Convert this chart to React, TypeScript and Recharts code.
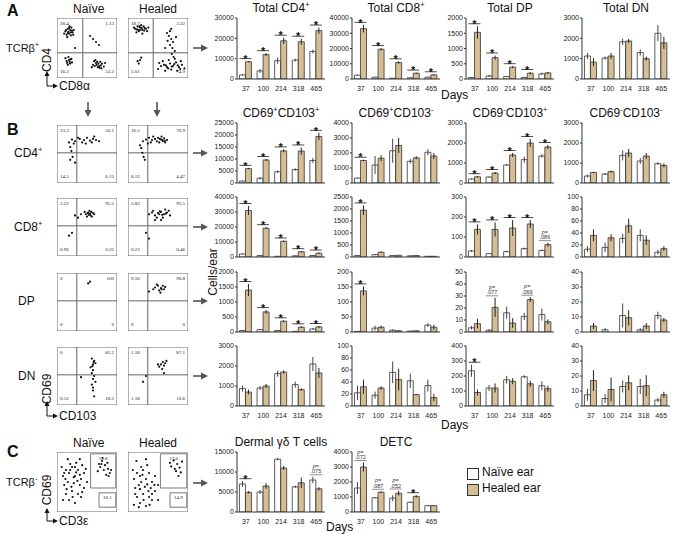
import React from 'react';
import {
  BarChart, Bar, XAxis, YAxis, ErrorBar, ScatterChart, Scatter, ReferenceLine, ReferenceArea,
} from 'recharts';

const FONT = 'Arial, "Liberation Sans", Helvetica, sans-serif';
const TAN = '#d6be94';
const DAYS = ['37', '100', '214', '318', '465'];

// ---------- A: totals ----------
const TOTAL_CD4_NAIVE = [2000, 4000, 9000, 9300, 13500];
const TOTAL_CD4_NAIVE_ERR = [300, 1000, 1500, 700, 1000];
const TOTAL_CD4_HEALED = [8500, 12000, 18800, 18300, 23800];
const TOTAL_CD4_HEALED_ERR = [300, 700, 1500, 1500, 1500];
const TOTAL_CD4_MARKS = ['*', '*', '*', '*', '*'];
const TOTAL_CD4_TICKS = [0, 10000, 20000, 30000];

const TOTAL_CD8_NAIVE = [2500, 1200, 500, 800, 1200];
const TOTAL_CD8_NAIVE_ERR = [400, 200, 100, 200, 300];
const TOTAL_CD8_HEALED = [33000, 19500, 10800, 3800, 2700];
const TOTAL_CD8_HEALED_ERR = [2500, 800, 800, 400, 400];
const TOTAL_CD8_MARKS = ['*', '*', '*', '*', '*'];
const TOTAL_CD8_TICKS = [0, 10000, 20000, 30000, 40000];

const TOTAL_DP_NAIVE = [50, 100, 80, 50, 170];
const TOTAL_DP_NAIVE_ERR = [10, 40, 20, 20, 40];
const TOTAL_DP_HEALED = [1530, 700, 390, 190, 200];
const TOTAL_DP_HEALED_ERR = [200, 70, 30, 40, 30];
const TOTAL_DP_MARKS = ['*', '*', '*', '*', ''];
const TOTAL_DP_TICKS = [0, 500, 1000, 1500, 2000];

const TOTAL_DN_NAIVE = [1130, 1030, 1830, 1300, 2250];
const TOTAL_DN_NAIVE_ERR = [150, 80, 150, 150, 400];
const TOTAL_DN_HEALED = [830, 1130, 1870, 1000, 1780];
const TOTAL_DN_HEALED_ERR = [200, 150, 100, 100, 300];
const TOTAL_DN_MARKS = ['', '', '', '', ''];
const TOTAL_DN_TICKS = [0, 1000, 2000, 3000];

// ---------- B: CD4+ ----------
const CD4_PP_NAIVE = [800, 2000, 4700, 5600, 9400];
const CD4_PP_NAIVE_ERR = [200, 500, 500, 500, 1000];
const CD4_PP_HEALED = [6000, 9600, 13400, 13300, 19400];
const CD4_PP_HEALED_ERR = [300, 400, 600, 1500, 1500];
const CD4_PP_MARKS = ['*', '*', '*', '*', '*'];
const CD4_PP_TICKS = [0, 5000, 10000, 15000, 20000, 25000];

const CD4_PM_NAIVE = [330, 1200, 2150, 1450, 2050];
const CD4_PM_NAIVE_ERR = [30, 600, 800, 150, 200];
const CD4_PM_HEALED = [1500, 1650, 2500, 1680, 1800];
const CD4_PM_HEALED_ERR = [50, 200, 500, 100, 200];
const CD4_PM_MARKS = ['*', '', '', '', ''];
const CD4_PM_TICKS = [0, 1000, 2000, 3000, 4000];

const CD4_MP_NAIVE = [200, 300, 900, 1170, 1350];
const CD4_MP_NAIVE_ERR = [30, 30, 50, 150, 80];
const CD4_MP_HEALED = [310, 500, 1400, 2000, 1800];
const CD4_MP_HEALED_ERR = [30, 50, 100, 200, 100];
const CD4_MP_MARKS = ['*', '*', '*', '*', '*'];
const CD4_MP_TICKS = [0, 1000, 2000, 3000];

const CD4_MM_NAIVE = [350, 450, 1380, 1100, 970];
const CD4_MM_NAIVE_ERR = [70, 50, 250, 150, 70];
const CD4_MM_HEALED = [530, 570, 1500, 1350, 880];
const CD4_MM_HEALED_ERR = [30, 50, 200, 150, 100];
const CD4_MM_MARKS = ['', '', '', '', ''];
const CD4_MM_TICKS = [0, 1000, 2000, 3000];

// ---------- B: CD8+ ----------
const CD8_PP_NAIVE = [2000, 1000, 500, 800, 1000];
const CD8_PP_NAIVE_ERR = [300, 200, 100, 200, 200];
const CD8_PP_HEALED = [31000, 19200, 10500, 3500, 2500];
const CD8_PP_HEALED_ERR = [3000, 700, 500, 400, 500];
const CD8_PP_MARKS = ['*', '*', '*', '*', '*'];
const CD8_PP_TICKS = [0, 10000, 20000, 30000, 40000];

const CD8_PM_NAIVE = [60, 100, 60, 50, 30];
const CD8_PM_NAIVE_ERR = [10, 30, 10, 10, 5];
const CD8_PM_HEALED = [1950, 200, 70, 60, 30];
const CD8_PM_HEALED_ERR = [200, 30, 10, 10, 5];
const CD8_PM_MARKS = ['*', '', '', '', ''];
const CD8_PM_TICKS = [0, 500, 1000, 1500, 2000, 2500];

const CD8_MP_NAIVE = [30, 17, 27, 42, 33];
const CD8_MP_NAIVE_ERR = [5, 2, 4, 5, 4];
const CD8_MP_HEALED = [138, 138, 145, 165, 62];
const CD8_MP_HEALED_ERR = [25, 35, 40, 20, 10];
const CD8_MP_MARKS = ['*', '*', '*', '*', 'p=.086'];
const CD8_MP_TICKS = [0, 100, 200, 300];

const CD8_MM_NAIVE = [13, 16, 31, 36, 8];
const CD8_MM_NAIVE_ERR = [5, 8, 8, 10, 4];
const CD8_MM_HEALED = [36, 32, 52, 28, 14];
const CD8_MM_HEALED_ERR = [10, 6, 12, 8, 4];
const CD8_MM_MARKS = ['', '', '', '', ''];
const CD8_MM_TICKS = [0, 20, 40, 60, 80, 100];

// ---------- B: DP ----------
const DP_PP_NAIVE = [50, 80, 50, 20, 100];
const DP_PP_NAIVE_ERR = [10, 20, 10, 5, 30];
const DP_PP_HEALED = [1400, 670, 360, 160, 170];
const DP_PP_HEALED_ERR = [200, 60, 30, 30, 30];
const DP_PP_MARKS = ['*', '*', '*', '*', '*'];
const DP_PP_TICKS = [0, 500, 1000, 1500, 2000];

const DP_PM_NAIVE = [2, 13, 6, 3, 23];
const DP_PM_NAIVE_ERR = [1, 8, 3, 1, 6];
const DP_PM_HEALED = [137, 16, 4, 4, 16];
const DP_PM_HEALED_ERR = [15, 5, 2, 1, 8];
const DP_PM_MARKS = ['*', '', '', '', ''];
const DP_PM_TICKS = [0, 50, 100, 150, 200];

const DP_MP_NAIVE = [3.5, 1.5, 16, 13, 14.5];
const DP_MP_NAIVE_ERR = [1.5, 1, 5, 3, 5];
const DP_MP_HEALED = [7, 20.5, 7.5, 27, 8.5];
const DP_MP_HEALED_ERR = [4, 8, 4, 2, 2];
const DP_MP_MARKS = ['', 'p=.077', '', 'p=.069', ''];
const DP_MP_TICKS = [0, 10, 20, 30, 40, 50];

const DP_MM_NAIVE = [0, 1.5, 11, 1.5, 11];
const DP_MM_NAIVE_ERR = [0, 1, 8, 1, 2.5];
const DP_MM_HEALED = [4, 0, 9.5, 4, 8];
const DP_MM_HEALED_ERR = [2, 0, 5, 2, 1.5];
const DP_MM_MARKS = ['', '', '', '', ''];
const DP_MM_TICKS = [0, 10, 20, 30, 40];

// ---------- B: DN ----------
const DN_PP_NAIVE = [870, 900, 1620, 1070, 2100];
const DN_PP_NAIVE_ERR = [150, 100, 150, 150, 350];
const DN_PP_HEALED = [700, 1000, 1700, 820, 1650];
const DN_PP_HEALED_ERR = [120, 100, 80, 60, 250];
const DN_PP_MARKS = ['', '', '', '', ''];
const DN_PP_TICKS = [0, 1000, 2000, 3000];

const DN_PM_NAIVE = [22, 18, 56, 42, 34];
const DN_PM_NAIVE_ERR = [12, 6, 18, 12, 10];
const DN_PM_HEALED = [32, 30, 44, 19, 14];
const DN_PM_HEALED_ERR = [12, 3, 18, 1, 6];
const DN_PM_MARKS = ['', '', '', '', ''];
const DN_PM_TICKS = [0, 20, 40, 60, 80, 100];

const DN_MP_NAIVE = [235, 120, 175, 195, 135];
const DN_MP_NAIVE_ERR = [40, 20, 25, 10, 30];
const DN_MP_HEALED = [90, 120, 165, 148, 115];
const DN_MP_HEALED_ERR = [20, 30, 20, 20, 20];
const DN_MP_MARKS = ['*', '', '', '', ''];
const DN_MP_TICKS = [0, 100, 200, 300, 400];

const DN_MM_NAIVE = [7.5, 5, 13, 13, 4];
const DN_MM_NAIVE_ERR = [4, 3, 4, 5, 1.5];
const DN_MM_HEALED = [17, 11, 15.5, 13.5, 7.5];
const DN_MM_HEALED_ERR = [7, 8, 5, 7, 2];
const DN_MM_MARKS = ['', '', '', '', ''];
const DN_MM_TICKS = [0, 10, 20, 30, 40];

// ---------- C ----------
const DERMAL_NAIVE = [7000, 5000, 13200, 6300, 8000];
const DERMAL_NAIVE_ERR = [700, 500, 300, 300, 800];
const DERMAL_HEALED = [4900, 6500, 11000, 7300, 5800];
const DERMAL_HEALED_ERR = [300, 700, 500, 1300, 400];
const DERMAL_MARKS = ['*', '', '', '', 'p=.075'];
const DERMAL_TICKS = [0, 5000, 10000, 15000];

const DETC_NAIVE = [1600, 950, 920, 650, 420];
const DETC_NAIVE_ERR = [400, 50, 200, 50, 20];
const DETC_HEALED = [3000, 1320, 1250, 1040, 420];
const DETC_HEALED_ERR = [300, 60, 150, 80, 20];
const DETC_MARKS = ['p=.072', 'p=.087', 'p=.052', '*', ''];
const DETC_TICKS = [0, 1000, 2000, 3000, 4000];

// ---------- flow cytometry dot plots (x,y on 0..100) ----------
type Pt = [number, number];
const FLOW_A_NAIVE: Pt[] = [
  [14, 78], [18, 82], [22, 80], [26, 76], [20, 74], [16, 72], [24, 84], [28, 80], [19, 77], [23, 71], [12, 74], [27, 72], [21, 86], [17, 68],
  [15, 80], [25, 79], [20, 83], [23, 76], [18, 75],
  [16, 28], [20, 30], [22, 24], [18, 22], [24, 32], [14, 33], [21, 27], [19, 35], [25, 26], [17, 25], [22, 31],
  [60, 22], [65, 25], [70, 20], [75, 24], [68, 18], [62, 28], [72, 27], [78, 19], [66, 22], [58, 18], [74, 16], [80, 25], [64, 30],
  [63, 20], [69, 24], [73, 21], [67, 27], [71, 17],
  [60, 65], [65, 60], [55, 70], [30, 50], [70, 55],
];
const FLOW_A_HEALED: Pt[] = [
  [12, 82], [16, 86], [20, 84], [24, 80], [28, 83], [32, 78], [18, 78], [22, 88], [14, 76], [26, 86], [30, 82], [20, 80], [10, 84], [24, 74], [34, 84],
  [15, 81], [19, 86], [23, 83], [27, 79], [17, 80],
  [65, 75], [70, 78], [68, 70], [72, 65], [75, 60], [70, 55], [74, 50], [78, 45], [66, 62], [80, 68], [72, 82], [62, 50], [73, 40], [76, 35],
  [16, 28], [20, 30], [18, 24], [22, 34],
  [50, 15], [55, 20], [60, 22], [65, 18], [70, 24], [75, 20], [80, 26], [85, 18], [90, 22], [62, 12], [72, 14], [58, 28], [68, 30], [78, 32], [88, 28], [94, 16], [52, 25], [82, 12],
  [63, 21], [67, 16], [73, 19], [77, 23], [83, 21], [87, 15],
];
const FLOW_CD4_NAIVE: Pt[] = [
  [25, 75], [30, 72], [38, 76], [45, 74], [50, 78], [55, 73], [60, 76], [65, 74], [70, 72], [42, 70], [48, 68], [58, 70], [35, 78], [28, 68],
  [22, 62], [24, 55], [26, 45], [22, 40], [30, 35], [20, 70], [62, 80],
];
const FLOW_CD4_HEALED: Pt[] = [
  [30, 75], [35, 78], [40, 74], [45, 76], [50, 78], [55, 75], [60, 77], [65, 74], [38, 70], [48, 72], [58, 72], [42, 80], [52, 70], [62, 70],
  [25, 72], [22, 60], [24, 52], [26, 45], [28, 40], [20, 65], [33, 68], [56, 80], [53, 76], [57, 74], [61, 73],
];
const FLOW_CD8_NAIVE: Pt[] = [
  [48, 72], [52, 75], [56, 70], [60, 74], [54, 78], [58, 68], [50, 68], [62, 72], [46, 76], [55, 73], [30, 70], [40, 72], [35, 66], [20, 35], [25, 40],
  [53, 71], [57, 76], [51, 74],
];
const FLOW_CD8_HEALED: Pt[] = [
  [35, 72], [40, 75], [45, 70], [50, 74], [55, 76], [60, 72], [65, 75], [70, 70], [48, 66], [58, 66], [42, 78], [62, 80], [52, 72], [68, 78], [45, 62], [55, 62], [30, 40], [35, 30],
  [57, 71], [63, 73], [53, 77],
];
const FLOW_DP_NAIVE: Pt[] = [[55, 85], [52, 82]];
const FLOW_DP_HEALED: Pt[] = [
  [45, 75], [50, 78], [55, 74], [60, 72], [52, 70], [48, 80], [58, 78], [62, 76], [42, 72], [54, 66], [35, 68], [56, 72],
];
const FLOW_DN_NAIVE: Pt[] = [
  [58, 80], [62, 76], [60, 70], [56, 65], [64, 72], [60, 60], [58, 55], [62, 50], [60, 45], [64, 40], [58, 35], [60, 25], [62, 15], [60, 30], [40, 48],
  [61, 74], [59, 67],
];
const FLOW_DN_HEALED: Pt[] = [
  [55, 70], [58, 74], [62, 72], [60, 68], [52, 66], [64, 76], [57, 62], [50, 70], [30, 50], [25, 40], [60, 55],
];
const FLOW_C_NAIVE: Pt[] = [
  [10, 60], [15, 70], [20, 65], [25, 75], [30, 60], [35, 70], [40, 55], [45, 65], [12, 45], [18, 50], [28, 48], [38, 45], [22, 80], [32, 82], [42, 78],
  [15, 30], [25, 35], [35, 30], [45, 40], [20, 20], [30, 15], [40, 25], [50, 50], [8, 75], [48, 72], [14, 55], [34, 52], [24, 42], [18, 88], [38, 88],
  [12, 65], [28, 58], [22, 70], [32, 66], [38, 62], [16, 38], [26, 25], [42, 33], [10, 20], [30, 75],
  [70, 80], [75, 85], [80, 78], [85, 72], [78, 70], [72, 75], [88, 65], [82, 62], [90, 70], [76, 90], [68, 68], [84, 82], [74, 80], [86, 60],
];
const FLOW_C_HEALED: Pt[] = [
  [10, 55], [15, 65], [20, 60], [25, 70], [30, 55], [35, 65], [40, 50], [12, 40], [18, 45], [28, 42], [38, 40], [22, 75], [32, 78],
  [15, 25], [25, 30], [35, 25], [45, 35], [20, 15], [30, 10], [40, 20], [50, 45], [8, 70], [45, 60], [10, 12], [50, 20], [14, 85], [30, 88], [22, 50], [34, 35],
  [12, 30], [20, 38], [26, 20], [32, 46], [40, 30], [18, 8], [36, 12], [24, 62], [44, 45],
  [70, 82], [76, 86], [82, 80], [86, 74], [78, 72], [88, 66], [84, 60], [72, 76], [90, 84], [80, 68],
];

// quadrant frequencies: top-left, top-right, bottom-left, bottom-right
const Q_A_NAIVE = ['28.4', '1.13', '16.2', '53.2'];
const Q_A_HEALED = ['18.7', '3.32', '5.01', '74.9'];
const Q_CD4_NAIVE = ['23.3', '56.1', '14.5', '6.15'];
const Q_CD4_HEALED = ['16.5', '70.9', '8.12', '4.47'];
const Q_CD8_NAIVE = ['3.22', '95.5', '0.96', '0.32'];
const Q_CD8_HEALED = ['5.83', '93.5', '0.23', '0.46'];
const Q_DP_NAIVE = ['0', '100', '0', '0'];
const Q_DP_HEALED = ['9.16', '90.8', '0', '0'];
const Q_DN_NAIVE = ['0', '81.2', '0.52', '18.2'];
const Q_DN_HEALED = ['1.18', '87.1', '1.18', '10.6'];
// gates (x1,x2,y1,y2) and their frequencies for panel C
const GATES_C_NAIVE = [[56, 98, 40, 97], [70, 98, 8, 32]];
const GATES_C_HEALED = [[54, 98, 40, 97], [70, 98, 8, 32]];
const GATE_FREQ_C_NAIVE = ['51.8', '10.1'];
const GATE_FREQ_C_HEALED = ['17.6', '14.9'];

// ---------- components ----------
const PW = 88;
const YW = 30;
const MT = 6;

function Sup({ c }: { c: string }) {
  return <span style={{ fontSize: '0.62em', verticalAlign: 'super', lineHeight: 0 }}>{c}</span>;
}

function Title({ parts }: { parts: [string, string][] }) {
  return (
    <>
      {parts.map(([t, s], i) => (
        <React.Fragment key={i}>
          {t}
          {s ? <Sup c={s} /> : null}
        </React.Fragment>
      ))}
    </>
  );
}

type PanelProps = {
  left: number; top: number; ph: number; title: [string, string][];
  n: number[]; ne: number[]; h: number[]; he: number[]; m: string[]; ticks: number[]; showX: boolean;
};

function MiniBar(p: PanelProps) {
  const data = DAYS.map((d, i) => ({ day: d, n: p.n[i], ne: p.ne[i], h: p.h[i], he: p.he[i], m: p.m[i] }));
  const ymax = p.ticks[p.ticks.length - 1];
  const XH = p.showX ? 16 : 2;
  const W = YW + PW + 2;
  const H = p.ph + XH + MT;
  const renderMark = (lp: any) => {
    const vb = lp && lp.viewBox && lp.viewBox.width != null ? lp.viewBox : lp;
    const x = Number(vb.x), y = Number(vb.y), width = Number(vb.width), height = Number(vb.height);
    let idx = lp.index;
    if (idx == null) idx = data.findIndex((r) => r.h === lp.value);
    const row = data[idx];
    if (!row || !row.m || !(row.h > 0) || !(height > 0)) return null;
    const base = y + height;
    const k = height / row.h;
    const topV = Math.max(row.n + row.ne, row.h + row.he);
    const yt = base - topV * k - 2.5;
    const x0 = x - width;
    const x1 = x + width;
    const cx = (x0 + x1) / 2;
    if (row.m === '*') {
      return (
        <g key={`mk${idx}`}>
          <line x1={x0} x2={x1} y1={yt} y2={yt} stroke="#222" strokeWidth={0.8} />
          <text x={cx} y={yt + 4.2} textAnchor="middle" fontSize={11} fontWeight="bold" fill="#111" fontFamily={FONT}>*</text>
        </g>
      );
    }
    const pv = row.m.replace('p=', '');
    return (
      <g key={`mk${idx}`}>
        <text x={cx} y={yt - 6.5} textAnchor="middle" fontSize={5.5} fontStyle="italic" fill="#333" fontFamily={FONT}>p=</text>
        <text x={cx} y={yt - 1} textAnchor="middle" fontSize={5.5} fill="#333" fontFamily={FONT}>{pv}</text>
        <line x1={x0} x2={x1} y1={yt + 0.5} y2={yt + 0.5} stroke="#444" strokeWidth={0.6} />
      </g>
    );
  };
  return (
    <>
      <div style={{ position: 'absolute', left: p.left - 10, top: p.top - 16, width: PW + 20, textAlign: 'center', fontSize: 12, lineHeight: '13px', whiteSpace: 'nowrap' }}>
        <Title parts={p.title} />
      </div>
      <div style={{ position: 'absolute', left: p.left - YW, top: p.top - MT, width: W, height: H }}>
        <BarChart width={W} height={H} data={data} margin={{ top: MT, right: 2, left: 0, bottom: 0 }} barCategoryGap="14%" barGap={0}>
          <XAxis dataKey="day" interval={0} height={XH} tickLine={false} axisLine={{ stroke: '#333' }}
            tick={p.showX ? { fontSize: 7, fill: '#222', fontFamily: FONT } : false} tickMargin={1} />
          <XAxis xAxisId="t" orientation="top" dataKey="day" height={0} tick={false} tickLine={false} axisLine={{ stroke: '#333' }} />
          <YAxis domain={[0, ymax]} ticks={p.ticks} interval={0} width={YW} tickSize={2} tickMargin={1}
            allowDataOverflow tick={{ fontSize: 7, fill: '#222', fontFamily: FONT }} axisLine={{ stroke: '#333' }}
            tickLine={{ stroke: '#333' }} tickFormatter={(v: number) => String(v)} />
          <YAxis yAxisId="r" orientation="right" width={0} tick={false} tickLine={false} axisLine={{ stroke: '#333' }} />
          <Bar dataKey="n" fill="#ffffff" stroke="#333" strokeWidth={0.8} isAnimationActive={false}>
            <ErrorBar dataKey="ne" width={0} stroke="#444" strokeWidth={1} />
          </Bar>
          <Bar dataKey="h" fill={TAN} stroke="#333" strokeWidth={0.8} isAnimationActive={false} label={renderMark}>
            <ErrorBar dataKey="he" width={0} stroke="#222" strokeWidth={1} />
          </Bar>
        </BarChart>
      </div>
    </>
  );
}

const dot = (props: any) => <circle cx={props.cx} cy={props.cy} r={1.1} fill="#111" />;

type FlowProps = {
  left: number; top: number; w: number; h: number; pts: Pt[];
  qx?: number; qy?: number; quads?: string[]; gates?: number[][]; gateFreq?: string[];
};

function Flow(p: FlowProps) {
  const data = p.pts.map(([x, y]) => ({ x, y }));
  const numStyle: React.CSSProperties = { position: 'absolute', fontSize: 5, fontFamily: '"Liberation Serif", serif', color: '#222', lineHeight: '6px' };
  return (
    <div style={{ position: 'absolute', left: p.left, top: p.top, width: p.w, height: p.h }}>
      <ScatterChart width={p.w} height={p.h} margin={{ top: 0, right: 0, bottom: 0, left: 0 }}>
        <XAxis type="number" dataKey="x" domain={[0, 100]} hide />
        <YAxis type="number" dataKey="y" domain={[0, 100]} hide />
        <ReferenceArea x1={0} x2={100} y1={0} y2={100} fill="none" stroke="#666" strokeWidth={1} />
        {p.qx != null ? <ReferenceLine x={p.qx} stroke="#666" strokeWidth={1} /> : null}
        {p.qy != null ? <ReferenceLine y={p.qy} stroke="#666" strokeWidth={1} /> : null}
        {(p.gates || []).map((g, i) => (
          <ReferenceArea key={i} x1={g[0]} x2={g[1]} y1={g[2]} y2={g[3]} fill="none" stroke="#555" strokeWidth={0.8} />
        ))}
        <Scatter data={data} isAnimationActive={false} shape={dot} />
      </ScatterChart>
      {p.quads ? (
        <>
          <div style={{ ...numStyle, left: 3, top: 3 }}>{p.quads[0]}</div>
          <div style={{ ...numStyle, right: 3, top: 3 }}>{p.quads[1]}</div>
          <div style={{ ...numStyle, left: 3, bottom: 3 }}>{p.quads[2]}</div>
          <div style={{ ...numStyle, right: 3, bottom: 3 }}>{p.quads[3]}</div>
        </>
      ) : null}
      {(p.gates || []).map((g, i) => (
        <div key={i} style={{ ...numStyle, left: (p.w * (g[0] + g[1])) / 200 - 6, width: 12, textAlign: 'center', top: p.h * (1 - g[3] / 100) + 2 }}>
          {p.gateFreq ? p.gateFreq[i] : ''}
        </div>
      ))}
    </div>
  );
}

const COLS = [237, 352, 466, 582];
const ROW_TOP = { A: 18, B1: 123, B2: 197, B3: 272, B4: 346, C: 452 };

const PANELS: PanelProps[] = [
  { left: COLS[0], top: ROW_TOP.A, ph: 61, title: [['Total CD4', '+']], n: TOTAL_CD4_NAIVE, ne: TOTAL_CD4_NAIVE_ERR, h: TOTAL_CD4_HEALED, he: TOTAL_CD4_HEALED_ERR, m: TOTAL_CD4_MARKS, ticks: TOTAL_CD4_TICKS, showX: true },
  { left: COLS[1], top: ROW_TOP.A, ph: 61, title: [['Total CD8', '+']], n: TOTAL_CD8_NAIVE, ne: TOTAL_CD8_NAIVE_ERR, h: TOTAL_CD8_HEALED, he: TOTAL_CD8_HEALED_ERR, m: TOTAL_CD8_MARKS, ticks: TOTAL_CD8_TICKS, showX: true },
  { left: COLS[2], top: ROW_TOP.A, ph: 61, title: [['Total DP', '']], n: TOTAL_DP_NAIVE, ne: TOTAL_DP_NAIVE_ERR, h: TOTAL_DP_HEALED, he: TOTAL_DP_HEALED_ERR, m: TOTAL_DP_MARKS, ticks: TOTAL_DP_TICKS, showX: true },
  { left: COLS[3], top: ROW_TOP.A, ph: 61, title: [['Total DN', '']], n: TOTAL_DN_NAIVE, ne: TOTAL_DN_NAIVE_ERR, h: TOTAL_DN_HEALED, he: TOTAL_DN_HEALED_ERR, m: TOTAL_DN_MARKS, ticks: TOTAL_DN_TICKS, showX: true },

  { left: COLS[0], top: ROW_TOP.B1, ph: 60, title: [['CD69', '+'], ['CD103', '+']], n: CD4_PP_NAIVE, ne: CD4_PP_NAIVE_ERR, h: CD4_PP_HEALED, he: CD4_PP_HEALED_ERR, m: CD4_PP_MARKS, ticks: CD4_PP_TICKS, showX: false },
  { left: COLS[1], top: ROW_TOP.B1, ph: 60, title: [['CD69', '+'], ['CD103', '-']], n: CD4_PM_NAIVE, ne: CD4_PM_NAIVE_ERR, h: CD4_PM_HEALED, he: CD4_PM_HEALED_ERR, m: CD4_PM_MARKS, ticks: CD4_PM_TICKS, showX: false },
  { left: COLS[2], top: ROW_TOP.B1, ph: 60, title: [['CD69', '-'], ['CD103', '+']], n: CD4_MP_NAIVE, ne: CD4_MP_NAIVE_ERR, h: CD4_MP_HEALED, he: CD4_MP_HEALED_ERR, m: CD4_MP_MARKS, ticks: CD4_MP_TICKS, showX: false },
  { left: COLS[3], top: ROW_TOP.B1, ph: 60, title: [['CD69', '-'], ['CD103', '-']], n: CD4_MM_NAIVE, ne: CD4_MM_NAIVE_ERR, h: CD4_MM_HEALED, he: CD4_MM_HEALED_ERR, m: CD4_MM_MARKS, ticks: CD4_MM_TICKS, showX: false },

  { left: COLS[0], top: ROW_TOP.B2, ph: 60, title: [], n: CD8_PP_NAIVE, ne: CD8_PP_NAIVE_ERR, h: CD8_PP_HEALED, he: CD8_PP_HEALED_ERR, m: CD8_PP_MARKS, ticks: CD8_PP_TICKS, showX: false },
  { left: COLS[1], top: ROW_TOP.B2, ph: 60, title: [], n: CD8_PM_NAIVE, ne: CD8_PM_NAIVE_ERR, h: CD8_PM_HEALED, he: CD8_PM_HEALED_ERR, m: CD8_PM_MARKS, ticks: CD8_PM_TICKS, showX: false },
  { left: COLS[2], top: ROW_TOP.B2, ph: 60, title: [], n: CD8_MP_NAIVE, ne: CD8_MP_NAIVE_ERR, h: CD8_MP_HEALED, he: CD8_MP_HEALED_ERR, m: CD8_MP_MARKS, ticks: CD8_MP_TICKS, showX: false },
  { left: COLS[3], top: ROW_TOP.B2, ph: 60, title: [], n: CD8_MM_NAIVE, ne: CD8_MM_NAIVE_ERR, h: CD8_MM_HEALED, he: CD8_MM_HEALED_ERR, m: CD8_MM_MARKS, ticks: CD8_MM_TICKS, showX: false },

  { left: COLS[0], top: ROW_TOP.B3, ph: 60, title: [], n: DP_PP_NAIVE, ne: DP_PP_NAIVE_ERR, h: DP_PP_HEALED, he: DP_PP_HEALED_ERR, m: DP_PP_MARKS, ticks: DP_PP_TICKS, showX: false },
  { left: COLS[1], top: ROW_TOP.B3, ph: 60, title: [], n: DP_PM_NAIVE, ne: DP_PM_NAIVE_ERR, h: DP_PM_HEALED, he: DP_PM_HEALED_ERR, m: DP_PM_MARKS, ticks: DP_PM_TICKS, showX: false },
  { left: COLS[2], top: ROW_TOP.B3, ph: 60, title: [], n: DP_MP_NAIVE, ne: DP_MP_NAIVE_ERR, h: DP_MP_HEALED, he: DP_MP_HEALED_ERR, m: DP_MP_MARKS, ticks: DP_MP_TICKS, showX: false },
  { left: COLS[3], top: ROW_TOP.B3, ph: 60, title: [], n: DP_MM_NAIVE, ne: DP_MM_NAIVE_ERR, h: DP_MM_HEALED, he: DP_MM_HEALED_ERR, m: DP_MM_MARKS, ticks: DP_MM_TICKS, showX: false },

  { left: COLS[0], top: ROW_TOP.B4, ph: 60, title: [], n: DN_PP_NAIVE, ne: DN_PP_NAIVE_ERR, h: DN_PP_HEALED, he: DN_PP_HEALED_ERR, m: DN_PP_MARKS, ticks: DN_PP_TICKS, showX: true },
  { left: COLS[1], top: ROW_TOP.B4, ph: 60, title: [], n: DN_PM_NAIVE, ne: DN_PM_NAIVE_ERR, h: DN_PM_HEALED, he: DN_PM_HEALED_ERR, m: DN_PM_MARKS, ticks: DN_PM_TICKS, showX: true },
  { left: COLS[2], top: ROW_TOP.B4, ph: 60, title: [], n: DN_MP_NAIVE, ne: DN_MP_NAIVE_ERR, h: DN_MP_HEALED, he: DN_MP_HEALED_ERR, m: DN_MP_MARKS, ticks: DN_MP_TICKS, showX: true },
  { left: COLS[3], top: ROW_TOP.B4, ph: 60, title: [], n: DN_MM_NAIVE, ne: DN_MM_NAIVE_ERR, h: DN_MM_HEALED, he: DN_MM_HEALED_ERR, m: DN_MM_MARKS, ticks: DN_MM_TICKS, showX: true },

  { left: COLS[0], top: ROW_TOP.C, ph: 60, title: [['Dermal \u03b3\u03b4 T cells', '']], n: DERMAL_NAIVE, ne: DERMAL_NAIVE_ERR, h: DERMAL_HEALED, he: DERMAL_HEALED_ERR, m: DERMAL_MARKS, ticks: DERMAL_TICKS, showX: true },
  { left: COLS[1], top: ROW_TOP.C, ph: 60, title: [['DETC', '']], n: DETC_NAIVE, ne: DETC_NAIVE_ERR, h: DETC_HEALED, he: DETC_HEALED_ERR, m: DETC_MARKS, ticks: DETC_TICKS, showX: true },
];

const abs = (left: number, top: number, extra: React.CSSProperties = {}): React.CSSProperties => ({ position: 'absolute', left, top, whiteSpace: 'nowrap', ...extra });
const rot = (cx: number, cy: number, extra: React.CSSProperties = {}): React.CSSProperties => ({
  position: 'absolute', left: cx, top: cy, transform: 'translate(-50%, -50%) rotate(-90deg)', whiteSpace: 'nowrap', ...extra,
});

function Arrows() {
  const rightYs = [48, 153, 227, 301, 376, 483];
  const gray = '#555';
  return (
    <svg width={675} height={534} style={{ position: 'absolute', left: 0, top: 0, pointerEvents: 'none' }}>
      {rightYs.map((y) => (
        <g key={y}>
          <line x1={193} x2={203} y1={y} y2={y} stroke={gray} strokeWidth={1.6} />
          <polygon points={`${201},${y - 3.5} ${208},${y} ${201},${y + 3.5}`} fill={gray} />
        </g>
      ))}
      {[88, 157].map((x) => (
        <g key={x}>
          <line x1={x} x2={x} y1={102} y2={112} stroke={gray} strokeWidth={1.6} />
          <polygon points={`${x - 3.5},${110} ${x},${117} ${x + 3.5},${110}`} fill={gray} />
        </g>
      ))}
      {[[47, 86, 12], [47, 416, 12], [47, 521, 10]].map(([x, y, len]) => (
        <g key={y}>
          <line x1={x} x2={x} y1={y} y2={y - len} stroke="#111" strokeWidth={1} />
          <polygon points={`${x - 2.5},${y - len + 2} ${x},${y - len - 3} ${x + 2.5},${y - len + 2}`} fill="#111" />
          <line x1={x} x2={x + 8} y1={y} y2={y} stroke="#111" strokeWidth={1} />
          <polygon points={`${x + 6},${y - 2.5} ${x + 11},${y} ${x + 6},${y + 2.5}`} fill="#111" />
        </g>
      ))}
    </svg>
  );
}

export default function App() {
  return (
    <div style={{ position: 'absolute', left: 0, top: 0, width: 675, height: 534, background: '#fff', fontFamily: FONT, color: '#111', overflow: 'hidden' }}>
      <div style={abs(7, 2, { fontSize: 16, fontWeight: 'bold' })}>A</div>
      <div style={abs(7, 121, { fontSize: 16, fontWeight: 'bold' })}>B</div>
      <div style={abs(7, 443, { fontSize: 16, fontWeight: 'bold' })}>C</div>

      <div style={abs(73, 2, { fontSize: 12 })}>Na&iuml;ve</div>
      <div style={abs(139, 2, { fontSize: 12 })}>Healed</div>
      <div style={abs(73, 436, { fontSize: 12 })}>Na&iuml;ve</div>
      <div style={abs(139, 436, { fontSize: 12 })}>Healed</div>

      <div style={abs(6, 42, { fontSize: 11 })}>TCR&beta;<Sup c="+" /></div>
      <div style={abs(14, 146, { fontSize: 12 })}>CD4<Sup c="+" /></div>
      <div style={abs(14, 220, { fontSize: 12 })}>CD8<Sup c="+" /></div>
      <div style={abs(18, 294, { fontSize: 12 })}>DP</div>
      <div style={abs(18, 369, { fontSize: 12 })}>DN</div>
      <div style={abs(6, 476, { fontSize: 11 })}>TCR&beta;<Sup c="-" /></div>

      <div style={rot(47, 60, { fontSize: 12 })}>CD4</div>
      <div style={abs(59, 79, { fontSize: 12 })}>CD8&alpha;</div>
      <div style={rot(47, 389, { fontSize: 12 })}>CD69</div>
      <div style={abs(59, 409, { fontSize: 12 })}>CD103</div>
      <div style={rot(47, 490, { fontSize: 12 })}>CD69</div>
      <div style={abs(59, 514, { fontSize: 12 })}>CD3&epsilon;</div>

      <Flow left={57} top={18} w={60} h={60} pts={FLOW_A_NAIVE} qx={43} qy={42} quads={Q_A_NAIVE} />
      <Flow left={128} top={18} w={60} h={60} pts={FLOW_A_HEALED} qx={42} qy={42} quads={Q_A_HEALED} />

      <Flow left={57} top={125} w={60} h={58} pts={FLOW_CD4_NAIVE} qx={33} qy={52} quads={Q_CD4_NAIVE} />
      <Flow left={128} top={125} w={60} h={58} pts={FLOW_CD4_HEALED} qx={33} qy={52} quads={Q_CD4_HEALED} />
      <Flow left={57} top={198} w={60} h={58} pts={FLOW_CD8_NAIVE} qx={33} qy={52} quads={Q_CD8_NAIVE} />
      <Flow left={128} top={198} w={60} h={58} pts={FLOW_CD8_HEALED} qx={33} qy={52} quads={Q_CD8_HEALED} />
      <Flow left={57} top={273} w={60} h={58} pts={FLOW_DP_NAIVE} qx={33} qy={52} quads={Q_DP_NAIVE} />
      <Flow left={128} top={273} w={60} h={58} pts={FLOW_DP_HEALED} qx={33} qy={52} quads={Q_DP_HEALED} />
      <Flow left={57} top={347} w={60} h={58} pts={FLOW_DN_NAIVE} qx={33} qy={52} quads={Q_DN_NAIVE} />
      <Flow left={128} top={347} w={60} h={58} pts={FLOW_DN_HEALED} qx={33} qy={52} quads={Q_DN_HEALED} />

      <Flow left={57} top={452} w={60} h={60} pts={FLOW_C_NAIVE} gates={GATES_C_NAIVE} gateFreq={GATE_FREQ_C_NAIVE} />
      <Flow left={128} top={452} w={60} h={60} pts={FLOW_C_HEALED} gates={GATES_C_HEALED} gateFreq={GATE_FREQ_C_HEALED} />

      <Arrows />

      {PANELS.map((p, i) => <MiniBar key={i} {...p} />)}

      <div style={abs(441, 88, { fontSize: 12 })}>Days</div>
      <div style={abs(441, 418, { fontSize: 12 })}>Days</div>
      <div style={abs(326, 520, { fontSize: 12 })}>Days</div>
      <div style={rot(213, 272, { fontSize: 12 })}>Cells/ear</div>

      <div style={abs(467, 468, { width: 10, height: 10, border: '1px solid #333', background: '#fff' })} />
      <div style={abs(482, 465, { fontSize: 12 })}>Na&iuml;ve ear</div>
      <div style={abs(467, 484, { width: 10, height: 10, border: '1px solid #333', background: TAN })} />
      <div style={abs(482, 481, { fontSize: 12 })}>Healed ear</div>
    </div>
  );
}
